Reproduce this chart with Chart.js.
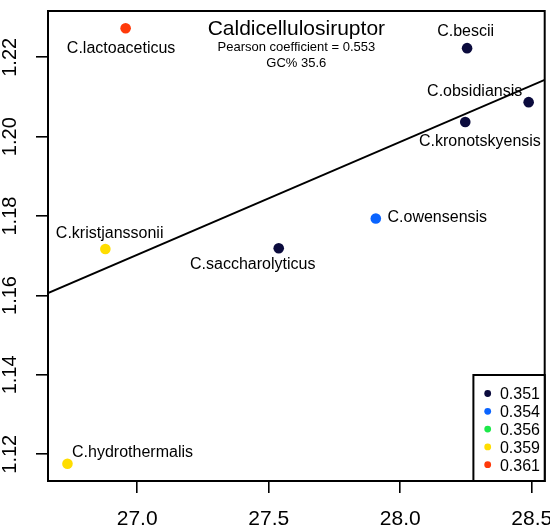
<!DOCTYPE html>
<html>
<head>
<meta charset="utf-8">
<script src="https://cdn.jsdelivr.net/npm/chart.js@4/dist/chart.umd.min.js"></script>
<style>
  html, body { margin: 0; padding: 0; background: #ffffff; }
  #wrap { width: 550px; height: 530px; }
</style>
</head>
<body>
<div id="wrap"><canvas id="c" width="550" height="530"></canvas></div>
<script>
// ---------------- data ----------------
const species = ['C.lactoaceticus', 'C.bescii', 'C.obsidiansis', 'C.kronotskyensis',
                 'C.owensensis', 'C.saccharolyticus', 'C.kristjanssonii', 'C.hydrothermalis'];
const xValues = [26.956, 28.254, 28.488, 28.247, 27.907, 27.538, 26.879, 26.735];
const yValues = [1.2273, 1.2223, 1.2087, 1.2037, 1.1794, 1.1719, 1.1717, 1.1176];
const groupOf = ['0.361', '0.351', '0.351', '0.351', '0.354', '0.351', '0.359', '0.359'];
const legendLabels = ['0.351', '0.354', '0.356', '0.359', '0.361'];
const xTicks = [27.0, 27.5, 28.0, 28.5];
const yTicks = [1.12, 1.14, 1.16, 1.18, 1.20, 1.22];
const xRange = [26.661, 28.549];
const yRange = [1.11327, 1.23166];
const fitX = [26.661, 28.549];
const fitY = [1.1606, 1.2143];
const titleText = 'Caldicellulosiruptor';
const subtitleLines = ['Pearson coefficient = 0.553', 'GC% 35.6'];

// ---------------- styles ----------------
const legendColors = ['#0b0b3d', '#0a64ff', '#1de84a', '#ffdd00', '#ff3a0a'];
const FONT = '"Liberation Sans", Arial, Helvetica, sans-serif';
// label placement relative to point: [textAlign, dx, dy(baseline)]
const labelPlacement = [
  ['center', -4.5, 25],
  ['center', -1.5, -12.3],
  ['center', -54, -6],
  ['center', 14.7, 23.7],
  ['left', 11.7, 4],
  ['center', -26, 21],
  ['center', 4.3, -10.7],
  ['left', 4.6, -7.3]
];

const colorFor = g => legendColors[legendLabels.indexOf(g)];
const noPad = s => { s.paddingLeft = 0; s.paddingRight = 0; s.paddingTop = 0; s.paddingBottom = 0; };

const overlay = {
  id: 'overlay',
  afterDraw(chart) {
    const ctx = chart.ctx;
    const a = chart.chartArea;
    const xs = chart.scales.x, ys = chart.scales.y;
    ctx.save();
    // plot box
    ctx.strokeStyle = '#000';
    ctx.lineWidth = 2;
    ctx.strokeRect(a.left, a.top, a.right - a.left, a.bottom - a.top);

    // title
    const cx = (a.left + a.right) / 2;
    ctx.fillStyle = '#000';
    ctx.textAlign = 'center';
    ctx.textBaseline = 'alphabetic';
    ctx.font = '21px ' + FONT;
    ctx.fillText(titleText, cx, a.top + 24);
    ctx.font = '13px ' + FONT;
    ctx.fillText(subtitleLines[0], cx, a.top + 40);
    ctx.fillText(subtitleLines[1], cx, a.top + 56);

    // point labels
    ctx.font = '16px ' + FONT;
    species.forEach((name, i) => {
      const px = xs.getPixelForValue(xValues[i]);
      const py = ys.getPixelForValue(yValues[i]);
      const p = labelPlacement[i];
      ctx.textAlign = p[0];
      ctx.fillText(name, px + p[1], py + p[2]);
    });

    // legend
    const lw = 71.3, lh = 106;
    const lx = a.right - lw, ly = a.bottom - lh;
    ctx.fillStyle = '#fff';
    ctx.fillRect(lx, ly, lw, lh);
    ctx.strokeStyle = '#000';
    ctx.lineWidth = 2;
    ctx.strokeRect(lx, ly, lw, lh);
    ctx.font = '16px ' + FONT;
    ctx.textAlign = 'left';
    legendLabels.forEach((lab, i) => {
      const rowY = ly + 18.5 + i * 17.8;
      ctx.fillStyle = legendColors[i];
      ctx.beginPath();
      ctx.arc(lx + 14.3, rowY, 3.4, 0, Math.PI * 2);
      ctx.fill();
      ctx.fillStyle = '#000';
      ctx.fillText(lab, lx + 26.5, rowY + 5.8);
    });
    ctx.restore();
  }
};

new Chart(document.getElementById('c'), {
  type: 'scatter',
  data: {
    datasets: [
      {
        type: 'line',
        data: fitX.map((x, i) => ({ x: x, y: fitY[i] })),
        borderColor: '#000',
        borderWidth: 1.8,
        pointRadius: 0,
        fill: false,
        tension: 0,
        order: 1
      },
      {
        data: xValues.map((x, i) => ({ x: x, y: yValues[i] })),
        backgroundColor: groupOf.map(colorFor),
        pointBackgroundColor: groupOf.map(colorFor),
        pointRadius: 5.3,
        pointBorderWidth: 0,
        borderWidth: 0,
        order: 0
      }
    ]
  },
  options: {
    responsive: false,
    animation: false,
    devicePixelRatio: 1,
    layout: { padding: { top: 11, right: 3, left: 0, bottom: 0 } },
    plugins: { legend: { display: false }, tooltip: { enabled: false } },
    scales: {
      x: {
        type: 'linear',
        position: 'bottom',
        min: xRange[0],
        max: xRange[1],
        afterBuildTicks: s => { s.ticks = xTicks.map(v => ({ value: v })); },
        afterFit: s => { s.height = 49; noPad(s); },
        grid: { display: true, drawOnChartArea: false, drawTicks: true, tickLength: 12, color: '#000', lineWidth: 1.6 },
        border: { display: false },
        ticks: {
          font: { family: FONT, size: 21 },
          color: '#000',
          padding: 14,
          maxRotation: 0,
          autoSkip: false,
          callback: v => Number(v).toFixed(1)
        }
      },
      y: {
        type: 'linear',
        position: 'left',
        min: yRange[0],
        max: yRange[1],
        afterBuildTicks: s => { s.ticks = yTicks.map(v => ({ value: v })); },
        afterFit: s => { s.width = 48; noPad(s); },
        grid: { display: true, drawOnChartArea: false, drawTicks: true, tickLength: 12, color: '#000', lineWidth: 1.6 },
        border: { display: false },
        ticks: {
          font: { family: FONT, size: 20 },
          color: '#000',
          padding: 6,
          minRotation: 90,
          maxRotation: 90,
          crossAlign: 'center',
          autoSkip: false,
          callback: v => Number(v).toFixed(2)
        }
      }
    }
  },
  plugins: [overlay]
});
</script>
</body>
</html>
